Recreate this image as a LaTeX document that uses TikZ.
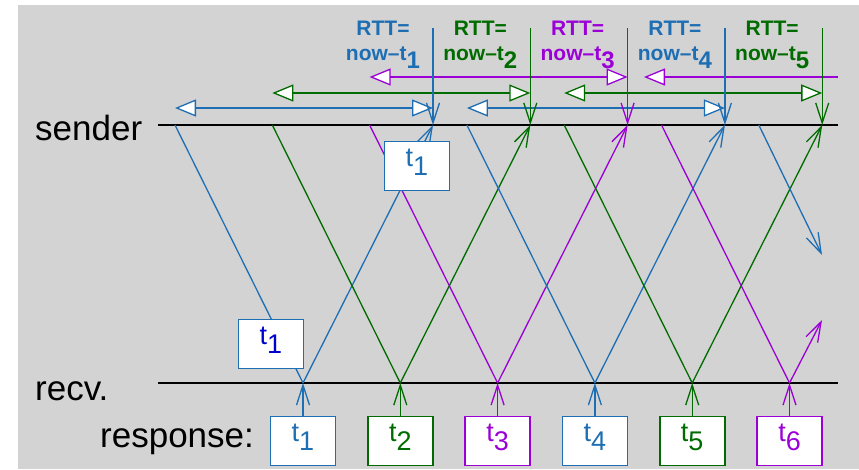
\documentclass[tikz,border=0pt]{standalone}
\usepackage{fontspec}
\setmainfont{Liberation Sans}
\usetikzlibrary{arrows.meta, positioning}
\definecolor{rttblue}{RGB}{30,110,180}
\definecolor{rttgreen}{RGB}{0,108,0}
\definecolor{rttpurple}{RGB}{155,0,215}
\definecolor{deepblue}{RGB}{0,0,205}
\definecolor{panel}{RGB}{211,211,211}
\tikzset{vtip/.tip={Straight Barb[length=20pt,width=13pt]},
         ttip/.tip={Triangle[length=21pt,width=17pt,fill=white]},
         leg/.style={line width=1.3pt},
         msg/.style={line width=1.3pt,-vtip},
         span/.style={line width=1.3pt,ttip-ttip},
         axis/.style={line width=1.6pt},
         tbox/.style={draw,line width=1.8pt,fill=white,minimum width=65pt,minimum height=49pt,
                      inner sep=0pt,text height=18pt,text depth=18pt,font=\fontsize{27}{27}\selectfont},
         rtt/.style={align=center,anchor=north,inner sep=0pt,font=\bfseries\fontsize{21}{25}\selectfont},
         lbl/.style={anchor=base west,inner sep=0pt,font=\fontsize{35}{35}\selectfont},
        }
\newcommand{\tidx}[1]{t\raisebox{-9.5pt}{#1}}
\newcommand{\rttlab}[1]{RTT=\\now–t\raisebox{-8pt}{\fontsize{24}{24}\selectfont #1}}

\begin{document}
\begin{tikzpicture}[x=1pt,y=-1pt]
        \useasboundingbox (0,0) rectangle (859,469);
        \fill[panel] (18,5) rectangle (859,469);

        % time lines
        \coordinate (sl) at (158,125);
        \coordinate (sr) at (838,125);
        \coordinate (rl) at (158,383);
        \coordinate (rr) at (838,383);
        \draw[axis] (sl) -- (sr);
        \draw[axis] (rl) -- (rr);
        \node[lbl] (sendlab) at (35,140) {sender};
        \node[lbl] (recvlab) at (35,400) {recv.};
        \node[lbl] (resplab) at (100,447) {response:};

        % send, receive and return points
        \coordinate (d1) at (175,125);
        \coordinate (d2) at (272.3,125);
        \coordinate (d3) at (369.6,125);
        \coordinate (d4) at (466.9,125);
        \coordinate (d5) at (564.2,125);
        \coordinate (d6) at (661.5,125);
        \coordinate (d7) at (758.8,125);
        \coordinate (c1) at (303,383);
        \coordinate (c2) at (400.3,383);
        \coordinate (c3) at (497.6,383);
        \coordinate (c4) at (594.9,383);
        \coordinate (c5) at (692.2,383);
        \coordinate (c6) at (789.5,383);
        \coordinate (e1) at (433,125);
        \coordinate (e2) at (530.3,125);
        \coordinate (e3) at (627.6,125);
        \coordinate (e4) at (724.9,125);
        \coordinate (e5) at (822.2,125);
        \coordinate (m6) at (822,320);
        \coordinate (m7) at (822,255);

        % messages
        \draw[leg,rttblue](d1)--(c1);
        \draw[msg,rttblue](c1)--(e1);
        \draw[leg,rttgreen](d2)--(c2);
        \draw[msg,rttgreen](c2)--(e2);
        \draw[leg,rttpurple](d3)--(c3);
        \draw[msg,rttpurple](c3)--(e3);
        \draw[leg,rttblue](d4)--(c4);
        \draw[msg,rttblue](c4)--(e4);
        \draw[leg,rttgreen](d5)--(c5);
        \draw[msg,rttgreen](c5)--(e5);
        \draw[leg,rttpurple](d6)--(c6);
        \draw[msg,rttpurple](c6)--(m6);
        \draw[msg,rttblue](d7)--(m7);

        % RTT markers
        \coordinate (hb) at (0,108);
        \coordinate (hg) at (0,93);
        \coordinate (hp) at (0,77);
        \coordinate (w6) at (644,77);
        \coordinate (w7) at (838,77);
        \draw[span,rttblue](d1|-hb)--(e1|-hb);
        \draw[span,rttgreen](d2|-hg)--(e2|-hg);
        \draw[span,rttpurple](d3|-hp)--(e3|-hp);
        \draw[span,rttblue](d4|-hb)--(e4|-hb);
        \draw[span,rttgreen](d5|-hg)--(e5|-hg);
        \draw[leg,rttpurple,-ttip](w7)--(w6);

        \coordinate (v1) at (433,28);
        \coordinate (v2) at (530.3,28);
        \coordinate (v3) at (627.6,28);
        \coordinate (v4) at (724.9,28);
        \coordinate (v5) at (822.2,28);
        \draw[msg,rttblue](v1)--(e1);
        \draw[msg,rttgreen](v2)--(e2);
        \draw[msg,rttpurple](v3)--(e3);
        \draw[msg,rttblue](v4)--(e4);
        \draw[msg,rttgreen](v5)--(e5);

        \node[rtt,text=rttblue](rtt1)at(383,21){\rttlab{1}};
        \node[rtt,text=rttgreen](rtt2)at(480.3,21){\rttlab{2}};
        \node[rtt,text=rttpurple](rtt3)at(577.6,21){\rttlab{3}};
        \node[rtt,text=rttblue](rtt4)at(674.9,21){\rttlab{4}};
        \node[rtt,text=rttgreen](rtt5)at(772.2,21){\rttlab{5}};

        % timestamps carried by the first message
        \node[tbox,draw=rttblue,text=deepblue](fwd)at(271,344){\tidx{1}};
        \node[tbox,draw=rttblue,text=rttblue](back)at(417,166){\tidx{1}};

        % responses
        \node[tbox,draw=rttblue,text=rttblue](r1)at(303,441){\tidx{1}};
        \node[tbox,draw=rttgreen,text=rttgreen](r2)at(400.3,441){\tidx{2}};
        \node[tbox,draw=rttpurple,text=rttpurple](r3)at(497.6,441){\tidx{3}};
        \node[tbox,draw=rttblue,text=rttblue](r4)at(594.9,441){\tidx{4}};
        \node[tbox,draw=rttgreen,text=rttgreen](r5)at(692.2,441){\tidx{5}};
        \node[tbox,draw=rttpurple,text=rttpurple](r6)at(789.5,441){\tidx{6}};

        \draw[msg,rttblue](r1)--(c1);
        \draw[msg,rttgreen](r2)--(c2);
        \draw[msg,rttpurple](r3)--(c3);
        \draw[msg,rttblue](r4)--(c4);
        \draw[msg,rttgreen](r5)--(c5);
        \draw[msg,rttpurple](r6)--(c6);
    \end{tikzpicture}
\end{document}
